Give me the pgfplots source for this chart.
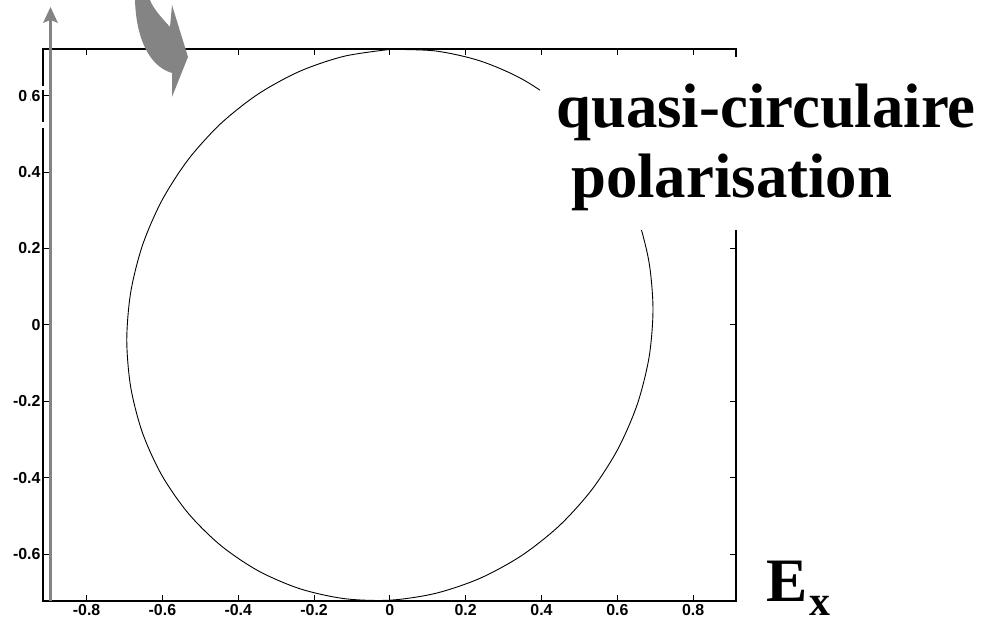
\documentclass[border=0pt]{standalone}
\usepackage{fontspec}
\setmainfont{Liberation Serif}
\newfontfamily\arialfont{Liberation Sans}
\usepackage{pgfplots}
\pgfplotsset{compat=1.18}
\definecolor{arrowgray}{RGB}{132,132,132}

\begin{document}
\begin{tikzpicture}[x=1bp,y=1bp]
\useasboundingbox (0,0) rectangle (988,626);
\begin{axis}[
  at={(43bp,25bp)}, anchor=south west,
  width=693bp, height=552bp, scale only axis,
  xmin=-0.915, xmax=0.913, ymin=-0.723, ymax=0.722,
  xtick={-0.8,-0.6,-0.4,-0.2,0,0.2,0.4,0.6,0.8},
  xticklabels={-0.8,-0.6,-0.4,-0.2,0,0.2,0.4,0.6,0.8},
  ytick={-0.6,-0.4,-0.2,0,0.2,0.4,0.6},
  yticklabels={-0.6,-0.4,-0.2,0,0.2,0.4,0.6},
  tick align=inside, major tick length=6bp,
  tick style={black, line width=0.8bp},
  axis line style={line width=1.3bp},
  ticklabel style={font=\arialfont\bfseries\fontsize{16}{16}\selectfont},
  yticklabel style={xshift=1bp},
]
% field trajectory in the (Ex, Ey) plane
\addplot[black, line width=0.9bp, smooth] coordinates {
(0,0.7209) (-0.1205,0.7030) (-0.2373,0.6638) (-0.3470,0.6044)
(-0.4461,0.5267) (-0.5316,0.4330) (-0.6010,0.3261) (-0.6522,0.2093)
(-0.6835,0.0860) (-0.694,-0.0397) (-0.6835,-0.1642) (-0.6522,-0.2839)
(-0.6010,-0.3949) (-0.5316,-0.4938) (-0.4461,-0.5777) (-0.3470,-0.6442)
(-0.2373,-0.6910) (-0.1205,-0.7168) (0,-0.7209) (0.1205,-0.7030)
(0.2373,-0.6638) (0.3470,-0.6044) (0.4461,-0.5267) (0.5316,-0.4330)
(0.6010,-0.3261) (0.6522,-0.2093) (0.6835,-0.0860) (0.694,0.0397)
(0.6835,0.1642) (0.6522,0.2839) (0.6010,0.3949) (0.5316,0.4938)
(0.4461,0.5777) (0.3470,0.6442) (0.2373,0.6910) (0.1205,0.7168)
(0,0.7209)
};
\end{axis}

% white gaps on the left edge
\fill[white] (38,536) rectangle (56,540);
\fill[white] (38,498) rectangle (56,504);
\fill[white] (26,523) rectangle (29.6,528.5);

% vertical Ey arrow
\fill[arrowgray] (49.3,25) rectangle (51.8,606);
\fill[arrowgray] (50.5,619) -- (43,603) -- (50.5,606) -- (58,603) -- cycle;

% curved arrow at the top
\fill[arrowgray] (135,626) .. controls (136,590) and (148,560) .. (172,553)
  -- (172,529) -- (188,569) -- (172,621) -- (170,599)
  .. controls (160,610) and (153,618) .. (150,626) -- cycle;

% caption
\fill[white] (540,396) rectangle (988,569);
\node[anchor=base west, inner sep=0pt, font=\bfseries\fontsize{63}{63}\selectfont]
  at (556,498) {quasi-circulaire};
\node[anchor=base west, inner sep=0pt, font=\bfseries\fontsize{63}{63}\selectfont]
  at (571,428) {polarisation};

% Ex label
\node[anchor=base west, inner sep=0pt, font=\bfseries\fontsize{62}{62}\selectfont]
  at (766,24) {E};
\node[anchor=base west, inner sep=0pt, font=\bfseries\fontsize{42}{42}\selectfont]
  at (809,10) {x};
\end{tikzpicture}
\end{document}
